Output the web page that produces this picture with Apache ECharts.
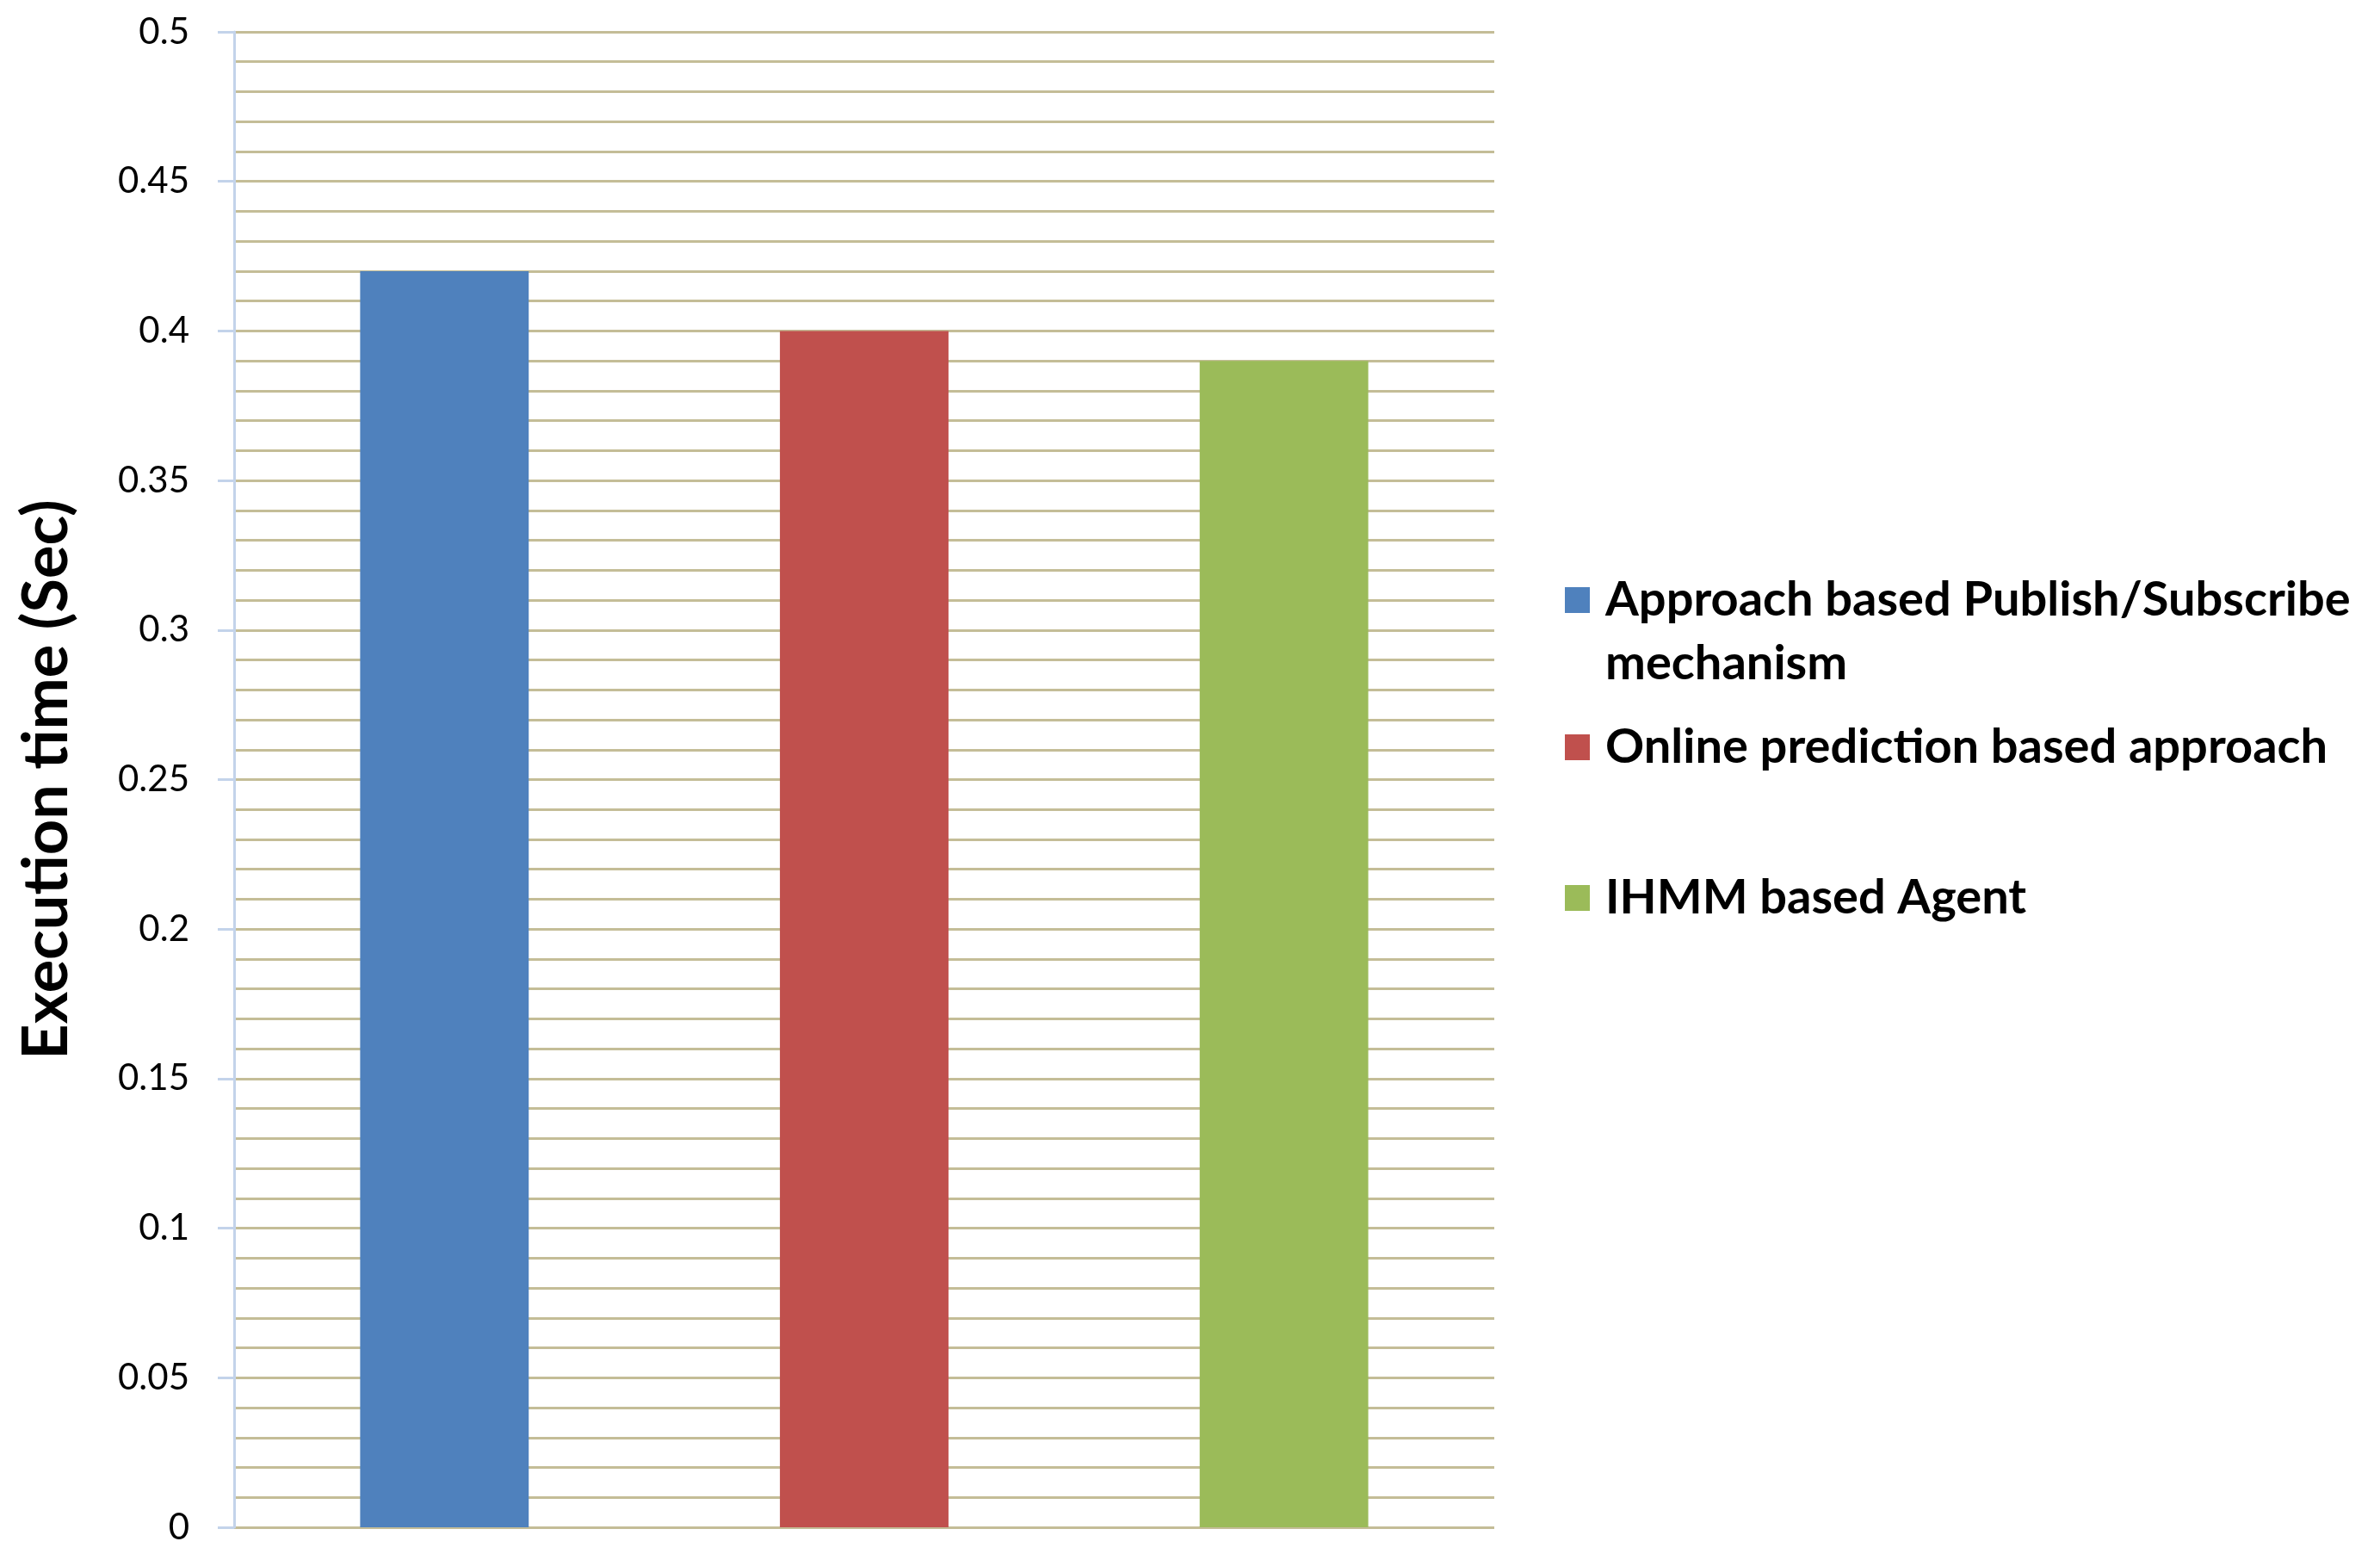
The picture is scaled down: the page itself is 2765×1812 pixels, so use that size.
<!DOCTYPE html>
<html lang="en">
<head>
    <meta charset="UTF-8">
    <title>Execution time</title>
    <style>
        html, body {
            margin: 0;
            padding: 0;
            background: #ffffff;
        }
        #main {
            width: 2765px;
            height: 1812px;
        }
    </style>
    <script type="text/javascript" src="https://cdn.jsdelivr.net/npm/echarts@6/dist/echarts.min.js"></script>
</head>
<body>
<div id="main"></div>
<script type="text/javascript">
    // data
    var categories = ['Execution time'];
    var seriesNames = ['Approach based Publish/Subscribe mechanism',
        'Online prediction based approach',
        'IHMM based Agent'];
    var publishSubscribe = [0.42];
    var onlinePrediction = [0.40];
    var ihmmAgent = [0.39];
    var yTicks = ['0', '0.05', '0.1', '0.15', '0.2', '0.25', '0.3', '0.35', '0.4', '0.45', '0.5'];

    var colors = ['#4f81bd', '#c0504d', '#9bbb59'];
    var gridColor = '#c4bd97';
    var axisColor = '#c3d3ea';

    var chart = echarts.init(document.getElementById('main'));

    function legendFor(name, top) {
        return {
            data: [name],
            orient: 'vertical',
            left: 1818,
            top: top,
            padding: 0,
            icon: 'rect',
            itemWidth: 29,
            itemHeight: 30,
            selectedMode: false,
            formatter: function (n) {
                // empty line on top keeps the square next to the first line
                return n === seriesNames[0] ? ' \nApproach based Publish/Subscribe\nmechanism' : n;
            },
            textStyle: {
                fontFamily: 'Lato',
                fontWeight: 'bold',
                fontSize: 56,
                lineHeight: 74,
                color: '#000',
                padding: [0, 0, 0, 13]
            }
        };
    }

    var option = {
        animation: false,
        backgroundColor: '#ffffff',
        color: colors,
        grid: {
            left: 272,
            right: 1029,
            top: 37,
            bottom: 38
        },
        legend: [
            legendFor(seriesNames[0], 586),
            legendFor(seriesNames[1], 831),
            legendFor(seriesNames[2], 1006)
        ],
        xAxis: {
            type: 'category',
            data: categories,
            axisLine: {show: false},
            axisTick: {show: false},
            axisLabel: {show: false}
        },
        yAxis: {
            type: 'value',
            min: +yTicks[0],
            max: +yTicks[yTicks.length - 1],
            interval: +yTicks[1] - +yTicks[0],
            name: 'Execution time (Sec)',
            nameLocation: 'middle',
            nameGap: 181,
            nameTextStyle: {
                fontFamily: 'Lato',
                fontWeight: 'bold',
                fontSize: 72,
                color: '#000'
            },
            axisLine: {
                show: true,
                lineStyle: {color: axisColor, width: 3}
            },
            axisTick: {
                show: true,
                length: 19,
                lineStyle: {color: axisColor, width: 3}
            },
            axisLabel: {
                margin: 52,
                fontFamily: 'Lato',
                fontSize: 42,
                color: '#000',
                formatter: function (v) {
                    var i = Math.round(v / (+yTicks[1]));
                    return yTicks[i];
                }
            },
            splitLine: {
                show: true,
                lineStyle: {color: gridColor, width: 3}
            },
            minorTick: {show: false, splitNumber: 5},
            minorSplitLine: {
                show: true,
                lineStyle: {color: gridColor, width: 3}
            }
        },
        series: [
            {
                name: seriesNames[0],
                type: 'bar',
                data: publishSubscribe,
                barCategoryGap: '20%',
                barGap: '149%'
            },
            {
                name: seriesNames[1],
                type: 'bar',
                data: onlinePrediction,
                barCategoryGap: '20%',
                barGap: '149%'
            },
            {
                name: seriesNames[2],
                type: 'bar',
                data: ihmmAgent,
                barCategoryGap: '20%',
                barGap: '149%'
            }
        ]
    };
    chart.setOption(option);
</script>
</body>
</html>
